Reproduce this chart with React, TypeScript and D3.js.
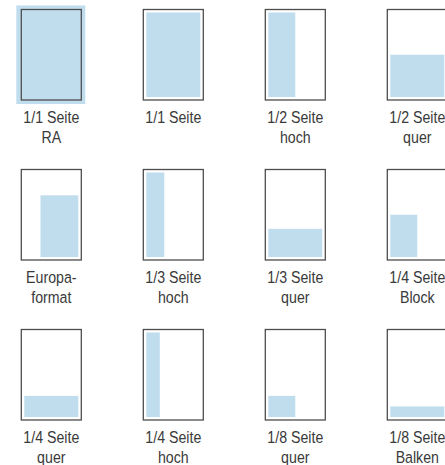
import * as d3 from "d3";

// ---- data: ad formats, size as fraction of the printable area ----
const formatLabels = [
  ["1/1 Seite", "RA"],
  ["1/1 Seite"],
  ["1/2 Seite", "hoch"],
  ["1/2 Seite", "quer"],
  ["Europa-", "format"],
  ["1/3 Seite", "hoch"],
  ["1/3 Seite", "quer"],
  ["1/4 Seite", "Block"],
  ["1/4 Seite", "quer"],
  ["1/4 Seite", "hoch"],
  ["1/8 Seite", "quer"],
  ["1/8 Seite", "Balken"],
];
const widthShare = [1, 1, 1 / 2, 1, 0.7, 1 / 3, 1, 1 / 2, 1, 1 / 4, 1 / 2, 1];
const heightShare = [1, 1, 1, 1 / 2, 0.73, 1, 1 / 3, 1 / 2, 1 / 4, 1, 1 / 4, 1 / 8];
const alignRight = [false, false, false, false, true, false, false, false, false, false, false, false];
const bleed = [true, false, false, false, false, false, false, false, false, false, false, false];

const W = 445;
const H = 465;
const COLS = 4;
const pageW = 60;
const pageH = 90.5;
const inset = 3;
const blue = "#c0ddee";
const frame = "#4d4d4d";
const textColor = "#3a3a3a";
// no condensed face installed -> squeeze Liberation Sans horizontally
const font = "'Liberation Sans', Arial, sans-serif";
const squeeze = 0.86;

export default function App() {
  // column centres / row tops
  const colX = d3.scaleLinear().domain([0, COLS - 1]).range([51.3, 417.3]);
  const rowY = d3.scaleLinear().domain([0, 2]).range([9.5, 329.5]);
  // fraction of inner page -> pixels
  const wScale = d3.scaleLinear().domain([0, 1]).range([0, pageW - 2 * inset]);
  const hScale = d3.scaleLinear().domain([0, 1]).range([0, pageH - 2 * inset]);

  return (
    <svg width={W} height={H} style={{ position: "absolute", left: 0, top: 0, background: "#fff" }}>
      {formatLabels.map((lines, i) => {
        const cx = colX(i % COLS);
        const top = rowY(Math.floor(i / COLS));
        const left = cx - pageW / 2;
        const innerL = left + inset;
        const innerR = left + pageW - inset;
        const innerB = top + pageH - inset;
        const bw = wScale(widthShare[i]);
        const bh = hScale(heightShare[i]);
        const bx = alignRight[i] ? innerR - bw : innerL;
        return (
          <g key={i}>
            {bleed[i] ? (
              <rect x={left - 5} y={top - 4} width={pageW + 9} height={pageH + 8} fill={blue} />
            ) : (
              <rect x={bx} y={innerB - bh} width={bw} height={bh} fill={blue} />
            )}
            <rect x={left} y={top} width={pageW} height={pageH} fill="none" stroke={frame} strokeWidth={1.3} />
            {lines.map((t, j) => (
              <text
                key={j}
                transform={`translate(${cx},${top + pageH + 22.5 + j * 20}) scale(${squeeze},1)`}
                textAnchor="middle"
                fontFamily={font}
                fontSize={16.5}
                fill={textColor}
              >
                {t}
              </text>
            ))}
          </g>
        );
      })}
    </svg>
  );
}
